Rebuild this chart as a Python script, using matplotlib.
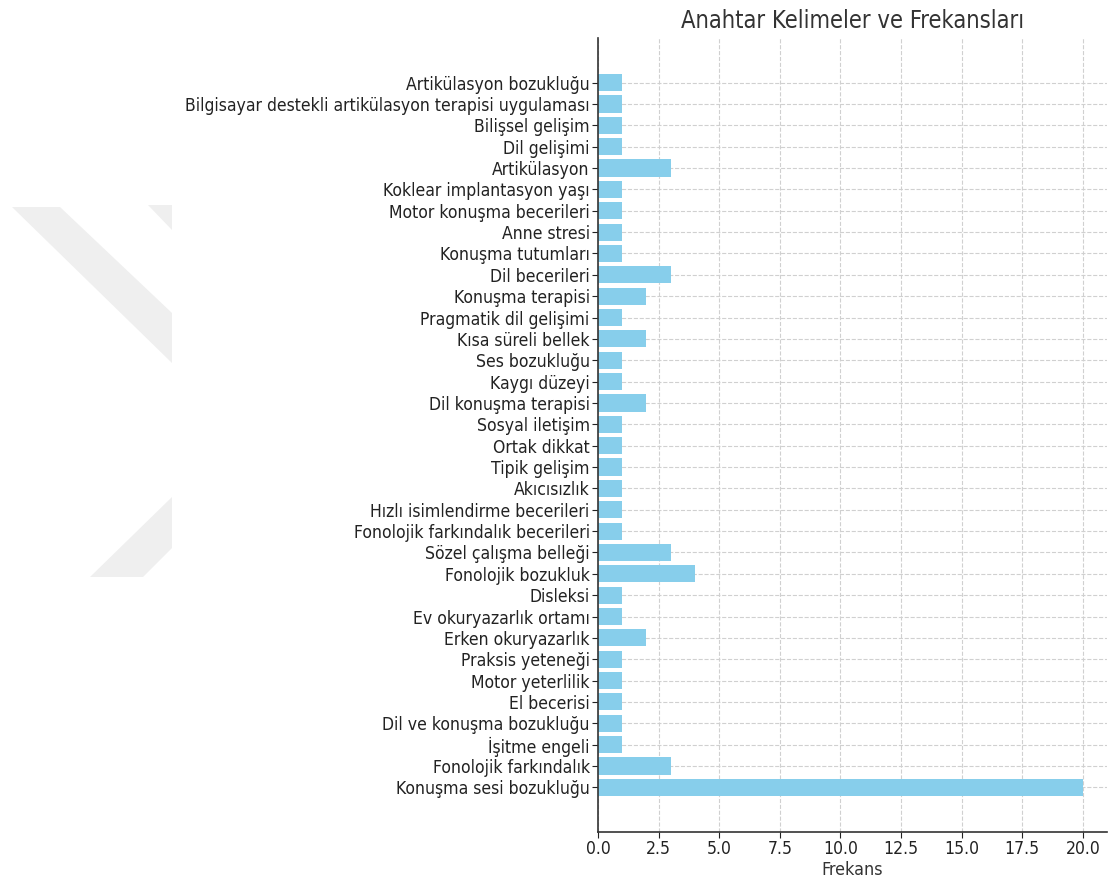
import matplotlib.pyplot as plt
from matplotlib.patches import Polygon

# veriler (alttan üste)
keywords = [
    "Konuşma sesi bozukluğu",
    "Fonolojik farkındalık",
    "İşitme engeli",
    "Dil ve konuşma bozukluğu",
    "El becerisi",
    "Motor yeterlilik",
    "Praksis yeteneği",
    "Erken okuryazarlık",
    "Ev okuryazarlık ortamı",
    "Disleksi",
    "Fonolojik bozukluk",
    "Sözel çalışma belleği",
    "Fonolojik farkındalık becerileri",
    "Hızlı isimlendirme becerileri",
    "Akıcısızlık",
    "Tipik gelişim",
    "Ortak dikkat",
    "Sosyal iletişim",
    "Dil konuşma terapisi",
    "Kaygı düzeyi",
    "Ses bozukluğu",
    "Kısa süreli bellek",
    "Pragmatik dil gelişimi",
    "Konuşma terapisi",
    "Dil becerileri",
    "Konuşma tutumları",
    "Anne stresi",
    "Motor konuşma becerileri",
    "Koklear implantasyon yaşı",
    "Artikülasyon",
    "Dil gelişimi",
    "Bilişsel gelişim",
    "Bilgisayar destekli artikülasyon terapisi uygulaması",
    "Artikülasyon bozukluğu",
]
frequencies = [20, 3, 1, 1, 1, 1, 1, 2, 1, 1, 4, 3, 1, 1, 1, 1, 1, 1, 2, 1, 1, 2,
               1, 2, 3, 1, 1, 1, 1, 3, 1, 1, 1, 1]

plt.rcParams["font.family"] = ["DejaVu Sans"]
plt.rcParams["font.stretch"] = "condensed"

fig = plt.figure(figsize=(11.08, 8.81), dpi=100)

# arka plandaki soluk filigran
wm_color = "#efefef"
W, H = 1108, 881
for pts in [
    [(12, 207), (60, 207), (172, 313), (172, 363)],
    [(148, 205), (172, 205), (172, 230)],
    [(90, 577), (143, 577), (172, 548), (172, 497)],
]:
    fig.patches.append(Polygon([(x / W, 1 - y / H) for x, y in pts], closed=True,
                               transform=fig.transFigure, facecolor=wm_color,
                               edgecolor="none", zorder=0))

ax = fig.add_axes([0.5397, 0.0556, 0.4594, 0.9013])
ax.barh(keywords, frequencies, color="skyblue", zorder=2)

ax.set_title("Anahtar Kelimeler ve Frekansları", fontsize=17, color="#333333", pad=7)
ax.set_xlabel("Frekans", fontsize=12.8, color="#333333", labelpad=2)
ax.tick_params(axis="both", labelsize=12.6, colors="#222222", length=4, pad=2)
ax.grid(True, linestyle="--", color="#d0d0d0", linewidth=0.8, zorder=0)
ax.set_axisbelow(True)
ax.spines["top"].set_visible(False)
ax.spines["right"].set_visible(False)
ax.spines["left"].set_color("#333333")
ax.spines["bottom"].set_color("#333333")
ax.spines["left"].set_linewidth(1.2)
ax.spines["bottom"].set_linewidth(1.2)

fig.savefig("out.png", dpi=100)
